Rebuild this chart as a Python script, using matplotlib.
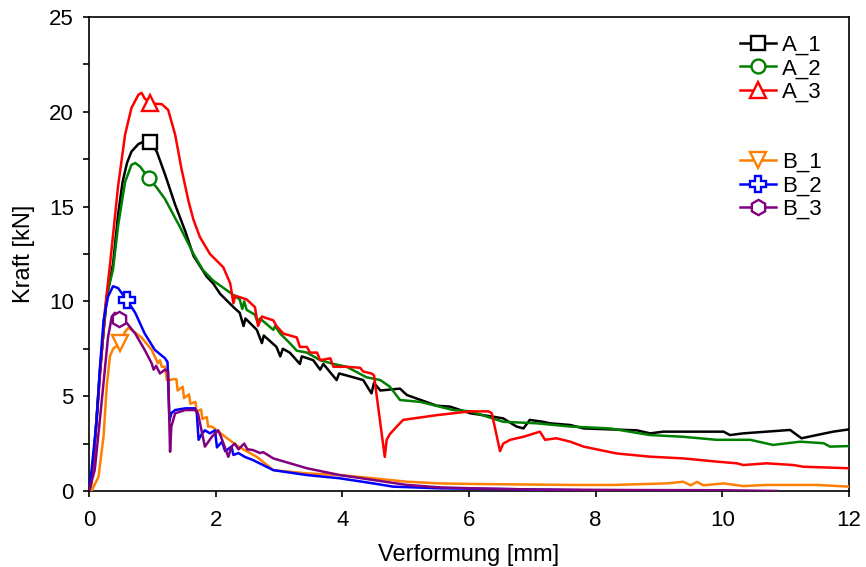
import matplotlib
matplotlib.use("Agg")
import matplotlib.pyplot as plt
from matplotlib.lines import Line2D
from matplotlib.ticker import MultipleLocator

plt.rcParams['font.family'] = ['Liberation Sans', 'DejaVu Sans']

# ---------------- data ----------------
a1_x = [0, 0.03, 0.08, 0.17, 0.28, 0.38, 0.46, 0.53, 0.60, 0.67, 0.78, 0.88, 0.97, 1.07, 1.20,
        1.36, 1.52, 1.65, 1.86, 1.96, 2.07, 2.28, 2.38, 2.44, 2.47, 2.65, 2.73, 2.76, 2.96, 3.02,
        3.06, 3.17, 3.33, 3.36, 3.54, 3.65, 3.70, 3.91, 3.95, 4.17, 4.33, 4.46, 4.50, 4.60, 4.91,
        5.02, 5.49, 5.70, 6.02, 6.38, 6.54, 6.75, 6.86, 6.96, 7.17, 7.28, 7.60, 7.81, 8.65, 8.86,
        9.07, 10.02, 10.12, 10.33, 11.07, 11.25, 11.49, 11.75, 12.0]
a1_y = [0, 0.3, 2.0, 6.2, 10.2, 12.0, 14.6, 16.3, 17.3, 17.9, 18.3, 18.45, 18.4, 17.9, 16.7,
        15.1, 13.7, 12.4, 11.3, 10.95, 10.4, 9.7, 9.4, 8.7, 9.1, 8.5, 7.8, 8.2, 7.6, 7.1,
        7.5, 7.3, 6.7, 7.1, 6.9, 6.4, 6.7, 5.85, 6.2, 6.0, 5.85, 5.15, 5.7, 5.3, 5.4,
        5.06, 4.5, 4.45, 4.1, 3.92, 3.83, 3.4, 3.3, 3.75, 3.65, 3.57, 3.48, 3.3, 3.2, 3.04,
        3.13, 3.13, 2.95, 3.04, 3.22, 2.78, 2.95, 3.13, 3.25]

a2_x = [0, 0.03, 0.08, 0.17, 0.28, 0.38, 0.46, 0.57, 0.67, 0.73, 0.81, 0.94, 1.07, 1.20, 1.36,
        1.44, 1.65, 1.80, 1.96, 2.17, 2.38, 2.42, 2.45, 2.49, 2.62, 2.66, 2.70, 2.91, 2.94, 3.02,
        3.17, 3.28, 3.44, 3.65, 3.86, 4.07, 4.38, 4.60, 4.75, 4.91, 5.23, 5.75, 6.02, 6.54, 7.07,
        7.60, 8.23, 8.86, 9.38, 9.91, 10.44, 10.80, 11.23, 11.60, 11.70, 12.0]
a2_y = [0, 0.3, 2.0, 6.2, 10.3, 11.7, 14.0, 16.3, 17.2, 17.3, 17.1, 16.5, 16.0, 15.4, 14.4,
        13.9, 12.5, 11.65, 11.1, 10.6, 10.1, 9.6, 10.0, 9.55, 9.3, 8.9, 9.1, 8.5, 8.7, 8.3,
        7.8, 7.4, 7.3, 6.9, 6.7, 6.55, 6.0, 5.85, 5.5, 4.8, 4.7, 4.27, 4.2, 3.65, 3.57,
        3.4, 3.3, 2.95, 2.86, 2.7, 2.7, 2.43, 2.6, 2.52, 2.34, 2.37]

a3_x = [0, 0.03, 0.08, 0.15, 0.25, 0.33, 0.46, 0.57, 0.67, 0.78, 0.83, 0.88, 0.97, 1.15, 1.25,
        1.36, 1.46, 1.57, 1.65, 1.75, 1.91, 2.12, 2.23, 2.28, 2.31, 2.49, 2.62, 2.67, 2.73, 2.91,
        2.96, 3.07, 3.28, 3.33, 3.44, 3.49, 3.60, 3.65, 3.81, 3.86, 4.07, 4.28, 4.33, 4.46, 4.50,
        4.67, 4.70, 4.75, 4.86, 4.96, 5.49, 6.02, 6.31, 6.36, 6.49, 6.54, 6.65, 6.86, 7.12, 7.20,
        7.38, 7.60, 7.81, 8.33, 8.86, 9.38, 9.91, 10.23, 10.33, 10.70, 11.12, 11.28, 12.0]
a3_y = [0, 0.3, 2.0, 5.0, 9.5, 11.9, 16.1, 18.8, 20.2, 20.9, 21.0, 20.7, 20.45, 20.4, 20.1,
        18.8, 17.0, 15.3, 14.3, 13.4, 12.5, 11.8, 10.95, 9.9, 10.3, 10.1, 9.7, 8.7, 9.2, 9.0,
        8.7, 8.3, 8.1, 7.6, 7.6, 7.3, 7.3, 6.9, 7.0, 6.55, 6.55, 6.5, 6.3, 6.2, 6.1,
        1.8, 2.7, 3.0, 3.4, 3.75, 4.0, 4.2, 4.2, 4.1, 2.1, 2.5, 2.7, 2.86, 3.13, 2.7,
        2.78, 2.6, 2.34, 1.98, 1.81, 1.72, 1.55, 1.46, 1.37, 1.46, 1.37, 1.28, 1.2]

b1_x = [0, 0.04, 0.15, 0.23, 0.28, 0.33, 0.38, 0.49, 0.57, 0.62, 0.67, 0.83, 0.99, 1.09, 1.12,
        1.15, 1.20, 1.23, 1.28, 1.33, 1.38, 1.40, 1.48, 1.50, 1.58, 1.60, 1.68, 1.70, 1.77, 1.79,
        1.86, 1.88, 1.94, 2.15, 2.36, 2.65, 2.91, 3.44, 3.96, 4.49, 5.02, 5.54, 6.07, 7.65, 8.28,
        9.12, 9.38, 9.50, 9.60, 9.70, 10.02, 10.33, 10.70, 11.49, 12.0]
b1_y = [0, 0, 0.75, 2.9, 5.5, 7.1, 7.5, 7.8, 8.4, 8.6, 8.5, 8.1, 7.44, 6.73, 6.9,
        6.55, 6.55, 5.85, 5.85, 5.9, 5.9, 5.3, 5.5, 4.9, 5.1, 4.6, 4.7, 4.2, 4.3, 3.8,
        3.9, 3.4, 3.4, 2.86, 2.34, 1.8, 1.1, 0.93, 0.84, 0.67, 0.49, 0.4, 0.37, 0.32, 0.32,
        0.4, 0.49, 0.3, 0.48, 0.3, 0.4, 0.26, 0.32, 0.32, 0.23]

b2_x = [0, 0.04, 0.12, 0.17, 0.23, 0.30, 0.38, 0.46, 0.60, 0.73, 0.88, 1.04, 1.20, 1.24, 1.27,
        1.30, 1.36, 1.52, 1.67, 1.70, 1.73, 1.78, 1.83, 1.91, 1.99, 2.02, 2.10, 2.15, 2.25, 2.28,
        2.36, 2.46, 2.59, 2.91, 3.44, 3.96, 4.49, 4.80, 5.54, 6.60, 8.00]
b2_y = [0, 1.1, 3.7, 6.4, 9.0, 10.25, 10.8, 10.7, 10.05, 9.4, 8.3, 7.44, 7.0, 6.8, 3.7,
        4.1, 4.27, 4.36, 4.36, 4.2, 2.7, 3.0, 3.2, 3.04, 3.2, 2.3, 2.6, 2.1, 2.34, 1.9,
        2.0, 1.8, 1.63, 1.1, 0.84, 0.67, 0.4, 0.23, 0.14, 0.1, 0.03]

b3_x = [0, 0.02, 0.09, 0.17, 0.25, 0.30, 0.36, 0.41, 0.48, 0.60, 0.73, 0.88, 0.99, 1.02, 1.06,
        1.12, 1.20, 1.25, 1.28, 1.30, 1.36, 1.52, 1.67, 1.72, 1.83, 1.94, 2.04, 2.08, 2.20, 2.25,
        2.30, 2.36, 2.45, 2.50, 2.59, 2.70, 2.75, 2.91, 3.44, 3.96, 4.49, 5.02, 5.54, 6.07, 7.00,
        8.50, 10.0, 10.86]
b3_y = [0, 0.23, 1.1, 3.7, 6.4, 8.1, 9.2, 9.4, 9.05, 8.85, 8.3, 7.44, 6.73, 6.4, 6.6,
        6.2, 6.4, 6.3, 2.07, 3.4, 4.1, 4.27, 4.27, 4.1, 2.34, 2.86, 3.2, 2.9, 1.8, 2.34,
        2.5, 2.2, 2.5, 2.2, 2.16, 2.0, 2.05, 1.72, 1.2, 0.84, 0.58, 0.32, 0.19, 0.14, 0.08,
        0.05, 0.04, 0.0]

series = [
    ("A_1", a1_x, a1_y, "black", "s", 12, 10),
    ("A_2", a2_x, a2_y, "#008000", "o", 11, 10),
    ("A_3", a3_x, a3_y, "#ff0000", "^", 12, 11),
    ("B_1", b1_x, b1_y, "#ff7f00", "v", 7, 11),
    ("B_2", b2_x, b2_y, "#0000ff", "P", 8, 12),
    ("B_3", b3_x, b3_y, "#800080", "h", 8, 11),
]

# ---------------- figure ----------------
fig = plt.figure(figsize=(8.66, 5.67), dpi=100)
ax = fig.add_axes([89/866, 76/567, 760/866, 474/567])

handles = []
for name, xs, ys, col, mk, idx, ms in series:
    ln, = ax.plot(xs, ys, color=col, lw=1.8, marker=mk, markevery=[idx],
                  markersize=ms, markerfacecolor="white", markeredgecolor=col,
                  markeredgewidth=1.7, label=name, zorder=3)
    handles.append(ln)

blank1 = Line2D([], [], color="none", label=" ")
blank2 = Line2D([], [], color="none", label=" ")
handles = handles[:3] + [blank1, blank2] + handles[3:]

ax.set_xlim(0, 12)
ax.set_ylim(0, 25)
ax.xaxis.set_major_locator(MultipleLocator(2))
ax.yaxis.set_major_locator(MultipleLocator(5))
ax.yaxis.set_minor_locator(MultipleLocator(2.5))
ax.tick_params(axis="both", which="both", direction="out", length=4, width=1.2,
               labelsize=16, top=False, right=False)
ax.tick_params(axis="x", which="both", pad=10)
ax.tick_params(axis="y", which="both", pad=7)
for s in ax.spines.values():
    s.set_linewidth(1.2)

ax.set_xlabel("Verformung [mm]", fontsize=17, labelpad=9)
ax.set_ylabel("Kraft [kN]", fontsize=17, labelpad=10)

ax.legend(handles=handles, loc="upper right", bbox_to_anchor=(0.988, 1.0),
          frameon=False, fontsize=16,
          handlelength=1.6, handletextpad=0.3, labelspacing=0.11,
          borderaxespad=0.5, borderpad=0.3)

fig.savefig("out.png", dpi=100)
